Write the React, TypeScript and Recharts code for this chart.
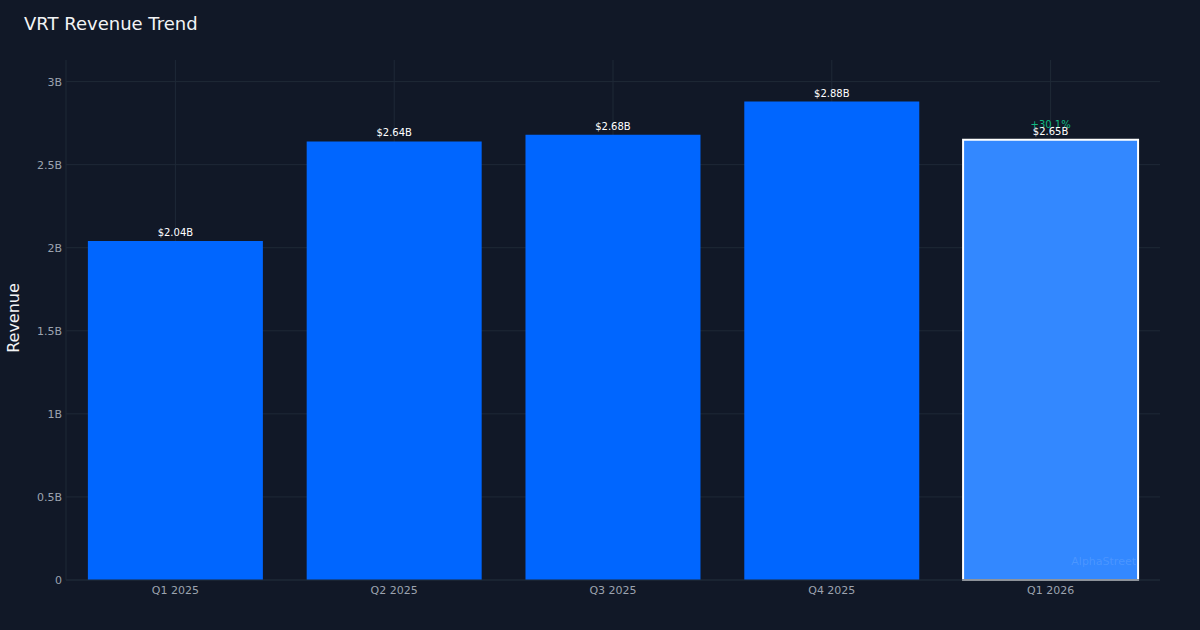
import { Bar, BarChart, CartesianGrid, Cell, LabelList, XAxis, YAxis } from "recharts";

const quarters = ["Q1 2025", "Q2 2025", "Q3 2025", "Q4 2025", "Q1 2026"];
const revenue = [2.04, 2.64, 2.68, 2.88, 2.65];
const valueLabels = ["$2.04B", "$2.64B", "$2.68B", "$2.88B", "$2.65B"];
const growthLabels = ["", "", "", "", "+30.1%"];
const yTicks = [0, 0.5, 1, 1.5, 2, 2.5, 3];

const data = quarters.map((quarter, i) => ({
  quarter,
  revenue: revenue[i],
  label: valueLabels[i],
  growth: growthLabels[i],
}));

const FONT = "DejaVu Sans, sans-serif";
const BG = "#111827";

function formatTick(value: number): string {
  return value === 0 ? "0" : `${value}B`;
}

function renderValueLabel(props: any) {
  const { x = 0, y = 0, width = 0, index = 0 } = props;
  const entry = data[index];
  const cx = Number(x) + Number(width) / 2;
  return (
    <g>
      {entry.growth ? (
        <text x={cx} y={Number(y) - 12} fill="#10b981" fontSize={10} textAnchor="middle" fontFamily={FONT}>
          {entry.growth}
        </text>
      ) : null}
      <text x={cx} y={Number(y) - 5} fill="#ffffff" fontSize={10} textAnchor="middle" fontFamily={FONT}>
        {entry.label}
      </text>
    </g>
  );
}

export default function App() {
  return (
    <div style={{ position: "fixed", left: 0, top: 0, width: 1200, height: 630, background: BG, fontFamily: FONT }}>
      <div style={{ position: "absolute", left: 24, top: 13, color: "#f3f4f6", fontSize: 18 }}>VRT Revenue Trend</div>
      <div
        style={{
          position: "absolute",
          left: 13,
          top: 318,
          color: "#f3f4f6",
          fontSize: 16,
          transform: "translate(-50%, -50%) rotate(-90deg)",
          whiteSpace: "nowrap",
        }}
      >
        Revenue
      </div>
      <BarChart
        width={1200}
        height={630}
        data={data}
        margin={{ top: 60, right: 40, bottom: 0, left: 0 }}
        barCategoryGap="10%"
        style={{ position: "absolute", left: 0, top: 0 }}
      >
        <CartesianGrid stroke="#1f2937" strokeWidth={1} syncWithTicks />
        <XAxis
          dataKey="quarter"
          height={50}
          axisLine={{ stroke: "#1f2937" }}
          tickLine={false}
          tick={{ fill: "#9ca3af", fontSize: 11, fontFamily: FONT }}
          tickMargin={0}
        />
        <YAxis
          width={66}
          domain={[0, 3.13]}
          ticks={yTicks}
          tickFormatter={formatTick}
          axisLine={{ stroke: "#1f2937" }}
          tickLine={false}
          tickSize={4}
          tick={{ fill: "#9ca3af", fontSize: 11, fontFamily: FONT }}
          tickMargin={0}
        />
        <Bar dataKey="revenue" isAnimationActive={false}>
          {data.map((entry, i) => (
            <Cell
              key={entry.quarter}
              fill={i === data.length - 1 ? "#3388ff" : "#0066ff"}
              stroke={i === data.length - 1 ? "#ffffff" : "none"}
              strokeWidth={i === data.length - 1 ? 2 : 0}
            />
          ))}
          <LabelList dataKey="label" content={renderValueLabel} />
        </Bar>
      </BarChart>
      <div style={{ position: "absolute", right: 64, top: 555, color: "rgba(255,255,255,0.12)", fontSize: 11 }}>AlphaStreet</div>
    </div>
  );
}
